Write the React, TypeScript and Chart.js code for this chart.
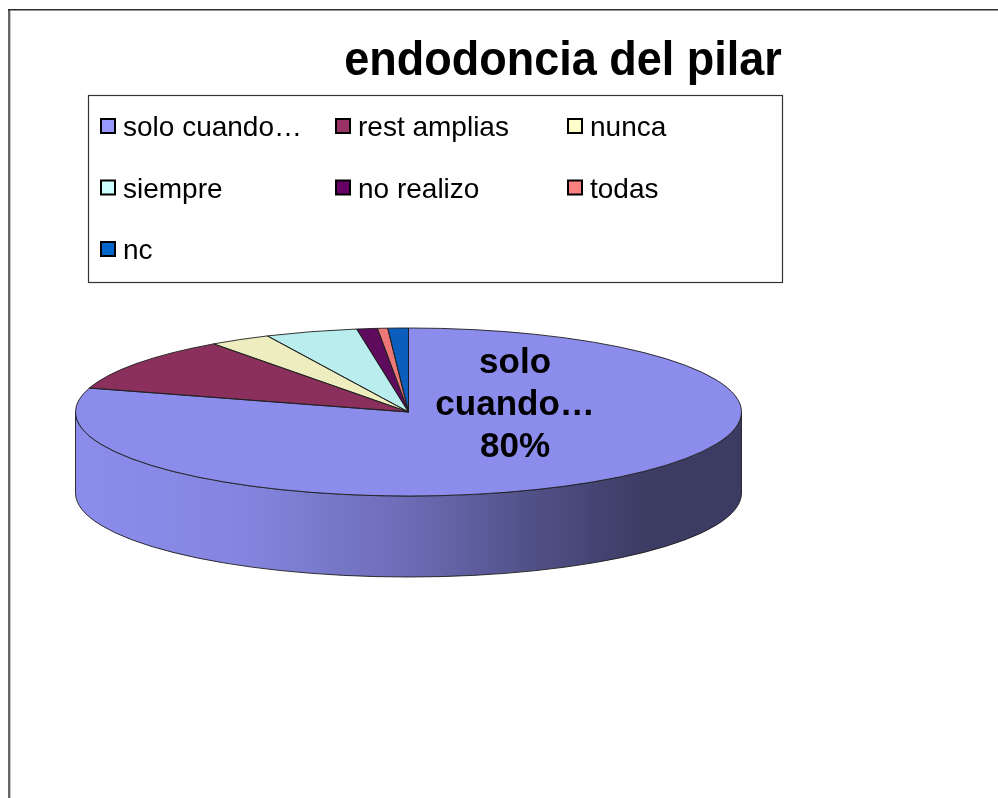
import React, { useEffect, useRef } from "react";
import { Chart, registerables } from "chart.js";

Chart.register(...registerables);

// ---- data ----
const categories = ["solo cuando…", "rest amplias", "nunca", "siempre", "no realizo", "todas", "nc"];
const counts = [160, 21, 6, 9, 2, 1, 2];
const topColors = ["#8C8CEC", "#8B2F5C", "#EDEDC0", "#BAEDEE", "#5E0B5E", "#EE7878", "#0B5EBE"];
const legendColors = ["#9999FF", "#993366", "#FFFFCC", "#CCFFFF", "#660066", "#FF8080", "#0066CC"];
const titleText = "endodoncia del pilar";
const labeledSlices = [0];

// ---- 3D look ----
const TILT = 84 / 333;
const DEPTH = 81;
const sideShade = [
  [0, 1.0],
  [0.25, 0.95],
  [0.5, 0.77],
  [0.68, 0.58],
  [0.85, 0.43],
  [1, 0.42],
];

function shade(hex: string, f: number) {
  const n = parseInt(hex.slice(1), 16);
  const r = Math.round(((n >> 16) & 255) * f);
  const g = Math.round(((n >> 8) & 255) * f);
  const b = Math.round((n & 255) * f);
  return `rgb(${r},${g},${b})`;
}

const pie3d = {
  id: "pie3d",
  beforeDraw(chart: any) {
    const ctx = chart.ctx;
    ctx.save();
    ctx.fillStyle = "#ffffff";
    ctx.fillRect(0, 0, chart.width, chart.height);
    ctx.fillStyle = "#2a2a2a";
    ctx.fillRect(8, 9, chart.width - 8, 1.5);
    ctx.fillRect(8.3, 9, 1.5, chart.height - 9);
    ctx.fillStyle = "#9a9a9a";
    ctx.fillRect(9.8, 10.5, 0.8, chart.height - 10);
    ctx.restore();
  },
  beforeDatasetsDraw(chart: any) {
    const ctx = chart.ctx;
    const arcs = chart.getDatasetMeta(0).data;
    if (!arcs.length) return;
    const cx = arcs[0].x;
    const cy = arcs[0].y;
    const r = arcs[0].outerRadius;
    const ry = r * TILT;
    ctx.save();
    arcs.forEach((arc: any, i: number) => {
      const s = arc.startAngle;
      const e = arc.endAngle;
      for (let k = -1; k <= 2; k++) {
        const lo = Math.max(s, 2 * Math.PI * k);
        const hi = Math.min(e, 2 * Math.PI * k + Math.PI);
        if (hi <= lo) continue;
        const grad = ctx.createLinearGradient(cx - r, 0, cx + r, 0);
        sideShade.forEach(([t, f]) => grad.addColorStop(t, shade(topColors[i], f)));
        ctx.beginPath();
        ctx.ellipse(cx, cy, r, ry, 0, lo, hi, false);
        ctx.lineTo(cx + r * Math.cos(hi), cy + ry * Math.sin(hi) + DEPTH);
        ctx.ellipse(cx, cy + DEPTH, r, ry, 0, hi, lo, true);
        ctx.closePath();
        ctx.fillStyle = grad;
        ctx.fill();
        ctx.strokeStyle = "#1e1e1e";
        ctx.lineWidth = 0.9;
        ctx.stroke();
      }
    });
    ctx.restore();
    ctx.save();
    ctx.translate(cx, cy);
    ctx.scale(1, TILT);
    ctx.translate(-cx, -cy);
  },
  afterDatasetsDraw(chart: any) {
    const ctx = chart.ctx;
    ctx.restore();
    const arcs = chart.getDatasetMeta(0).data;
    if (!arcs.length) return;
    const cx = arcs[0].x;
    const cy = arcs[0].y;
    const r = arcs[0].outerRadius;
    const ry = r * TILT;
    ctx.save();
    ctx.strokeStyle = "#1e1e1e";
    ctx.lineWidth = 0.9;
    arcs.forEach((arc: any) => {
      ctx.beginPath();
      ctx.moveTo(cx, cy);
      ctx.lineTo(cx + r * Math.cos(arc.startAngle), cy + ry * Math.sin(arc.startAngle));
      ctx.ellipse(cx, cy, r, ry, 0, arc.startAngle, arc.endAngle, false);
      ctx.closePath();
      ctx.stroke();
    });
    // data label
    const total = counts.reduce((a, b) => a + b, 0);
    ctx.fillStyle = "#000000";
    ctx.font = "bold 35px 'Liberation Sans', Arial, sans-serif";
    ctx.textAlign = "center";
    ctx.textBaseline = "alphabetic";
    labeledSlices.forEach((i) => {
      const pct = Math.round((counts[i] / total) * 100) + "%";
      const words = categories[i].split(" ");
      const lines = [...words, pct];
      const lx = cx + 0.32 * r;
      const y0 = cy - 0.465 * ry;
      lines.forEach((ln, j) => ctx.fillText(ln, lx, y0 + j * 42));
    });
    ctx.restore();
  },
  afterDraw(chart: any) {
    const ctx = chart.ctx;
    ctx.save();
    // title
    ctx.fillStyle = "#000000";
    ctx.font = "bold 45px 'Liberation Sans', Arial, sans-serif";
    ctx.textAlign = "center";
    ctx.textBaseline = "alphabetic";
    ctx.translate(563, 75);
    ctx.scale(1, 1.08);
    ctx.fillText(titleText, 0, 0);
    ctx.setTransform(1, 0, 0, 1, 0, 0);
    // legend box
    ctx.strokeStyle = "#333333";
    ctx.lineWidth = 1.2;
    ctx.strokeRect(88.5, 95.5, 694, 187);
    const cols = [100, 335, 567];
    const rows = [136, 197.5, 259];
    ctx.font = "28px 'Liberation Sans', Arial, sans-serif";
    ctx.textAlign = "left";
    categories.forEach((c, i) => {
      const x = cols[i % 3];
      const b = rows[Math.floor(i / 3)];
      ctx.fillStyle = legendColors[i];
      ctx.fillRect(x + 1, b - 17, 14, 14);
      ctx.strokeStyle = "#000000";
      ctx.lineWidth = 2;
      ctx.strokeRect(x + 1, b - 17, 14, 14);
      ctx.fillStyle = "#000000";
      ctx.fillText(c, x + 23, b);
    });
    ctx.restore();
  },
};

export default function App() {
  const ref = useRef<HTMLCanvasElement>(null);
  useEffect(() => {
    if (!ref.current) return;
    const chart = new Chart(ref.current, {
      type: "pie",
      data: {
        labels: categories,
        datasets: [
          {
            data: counts,
            backgroundColor: topColors,
            borderWidth: 0,
            radius: 333,
            clip: false as any,
          } as any,
        ],
      },
      options: {
        responsive: false,
        animation: false,
        events: [],
        layout: { padding: { left: 75.5, right: 256.5, top: 79, bottom: 53 } },
        plugins: {
          legend: { display: false },
          title: { display: false },
          tooltip: { enabled: false },
        },
      },
      plugins: [pie3d],
    });
    return () => chart.destroy();
  }, []);
  return (
    <canvas
      ref={ref}
      width={998}
      height={798}
      style={{ position: "absolute", left: 0, top: 0, width: 998, height: 798 }}
    />
  );
}
